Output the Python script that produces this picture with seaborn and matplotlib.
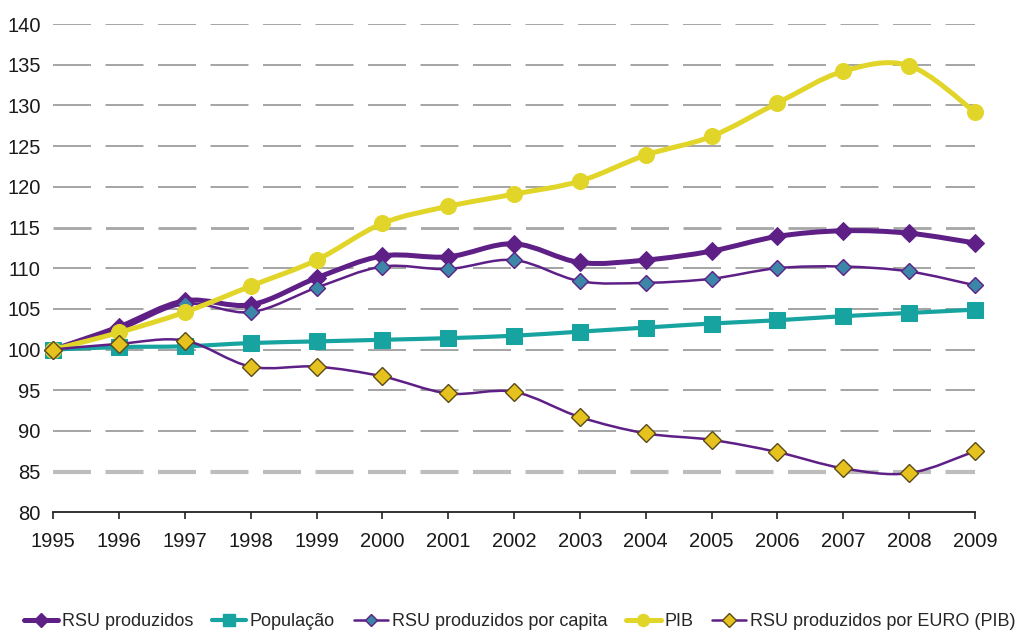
import matplotlib
matplotlib.use("Agg")
import matplotlib.pyplot as plt
from matplotlib.path import Path
from matplotlib.patches import PathPatch
from matplotlib.lines import Line2D
import seaborn as sns
import pandas as pd

years = list(range(1995, 2010))

rsu_produzidos = [100, 102.8, 106.0, 105.5, 108.8, 111.5, 111.4, 113.0, 110.7, 111.0, 112.1, 113.9, 114.6, 114.3, 113.1]
populacao = [100, 100.3, 100.4, 100.8, 101.0, 101.2, 101.4, 101.7, 102.2, 102.7, 103.2, 103.6, 104.1, 104.5, 104.9]
rsu_per_capita = [100, 102.4, 105.6, 104.6, 107.6, 110.2, 109.9, 111.0, 108.4, 108.2, 108.7, 110.0, 110.2, 109.6, 107.9]
pib = [100, 102.1, 104.6, 107.8, 111.0, 115.5, 117.6, 119.1, 120.7, 123.9, 126.2, 130.3, 134.2, 134.9, 129.2]
rsu_per_euro = [100, 100.7, 101.1, 97.9, 97.9, 96.7, 94.6, 94.8, 91.7, 89.7, 88.9, 87.4, 85.4, 84.8, 87.5]

labels = ["RSU produzidos", "População", "RSU produzidos por capita", "PIB", "RSU produzidos por EURO (PIB)"]
y_ticks = list(range(80, 141, 5))

PURPLE = "#5E1F86"
TEAL = "#17A3A0"
YELLOW = "#E2D52A"
BLUEDIA = "#3C86A8"
GOLD = "#E6C21E"

sns.set_theme(style="white")
plt.rcParams["font.family"] = ["Liberation Sans", "DejaVu Sans"]

fig = plt.figure(figsize=(10.24, 6.34), dpi=100)
ax = fig.add_axes([0.052, 0.192, 0.900, 0.770])

# dashed horizontal guides
guide_width = {85: 3.0, 115: 2.0}
for v in y_ticks[1:]:
    w = guide_width.get(v, 1.1)
    col = "#BDBDBD" if v == 85 else ("#A6A6A6" if v == 115 else "#8C8C8C")
    ax.axhline(v, color=col, lw=w, linestyle=(0, (38 * 0.72 / w, 14.5 * 0.72 / w)), zorder=0)


def smooth_path(xs, ys):
    """Cubic Bezier path through the points (Catmull-Rom style tangents)."""
    verts = [(xs[0], ys[0])]
    codes = [Path.MOVETO]
    n = len(xs)
    for i in range(n - 1):
        x0, y0 = (xs[i - 1], ys[i - 1]) if i > 0 else (xs[i], ys[i])
        x1, y1 = xs[i], ys[i]
        x2, y2 = xs[i + 1], ys[i + 1]
        x3, y3 = (xs[i + 2], ys[i + 2]) if i + 2 < n else (x2, y2)
        c1 = (x1 + (x2 - x0) / 6.0, y1 + (y2 - y0) / 6.0)
        c2 = (x2 - (x3 - x1) / 6.0, y2 - (y3 - y1) / 6.0)
        verts += [c1, c2, (x2, y2)]
        codes += [Path.CURVE4] * 3
    return Path(verts, codes)


styles = [
    (rsu_produzidos, dict(color=PURPLE, lw=3.6), dict(marker="D", markersize=9.5,
                                                       markerfacecolor=PURPLE, markeredgecolor=PURPLE)),
    (populacao, dict(color=TEAL, lw=3.0), dict(marker="s", markersize=11,
                                               markerfacecolor=TEAL, markeredgecolor=TEAL)),
    (rsu_per_capita, dict(color=PURPLE, lw=1.8), dict(marker="D", markersize=8,
                                                      markerfacecolor=BLUEDIA, markeredgecolor=PURPLE,
                                                      markeredgewidth=1)),
    (pib, dict(color=YELLOW, lw=3.6), dict(marker="o", markersize=11.5,
                                           markerfacecolor=YELLOW, markeredgecolor=YELLOW)),
    (rsu_per_euro, dict(color=PURPLE, lw=1.8), dict(marker="D", markersize=9,
                                                    markerfacecolor=GOLD, markeredgecolor="#5A4A1A",
                                                    markeredgewidth=1)),
]

handles = []
for z, ((vals, lkw, mkw), lab) in enumerate(zip(styles, labels)):
    zo = 3 + z
    ax.add_patch(PathPatch(smooth_path(years, vals), facecolor="none", edgecolor=lkw["color"],
                           lw=lkw["lw"], capstyle="round", joinstyle="round", zorder=zo,
                           clip_on=False))
    df = pd.DataFrame({"ano": years, "valor": vals})
    sns.lineplot(data=df, x="ano", y="valor", ax=ax, linestyle="none", clip_on=False,
                 zorder=zo + 0.5, legend=False, **mkw)
    handles.append(Line2D([], [], color=lkw["color"], lw=lkw["lw"], **mkw))

ax.set_xlim(1995, 2009)
ax.set_ylim(80, 140)
ax.set_xticks(years)
ax.set_xticklabels([str(y) for y in years])
ax.set_yticks(y_ticks)
ax.set_xlabel("")
ax.set_ylabel("")
for s in ("top", "right", "left"):
    ax.spines[s].set_visible(False)
ax.spines["bottom"].set_color("#222222")
ax.spines["bottom"].set_linewidth(1.3)
ax.tick_params(axis="x", bottom=True, length=5, width=1.2, color="#222222",
               labelsize=14.5, pad=9, labelcolor="#1A1A1A")
ax.tick_params(axis="y", left=False, length=0, labelsize=14.5, pad=9, labelcolor="#1A1A1A")

ax.legend(handles, labels, loc="lower center", bbox_to_anchor=(0.506, -0.275), ncol=5,
          frameon=False, fontsize=13, handlelength=1.9, handletextpad=0.2,
          columnspacing=1.05, markerscale=0.75)

fig.savefig("out.png", dpi=100)
